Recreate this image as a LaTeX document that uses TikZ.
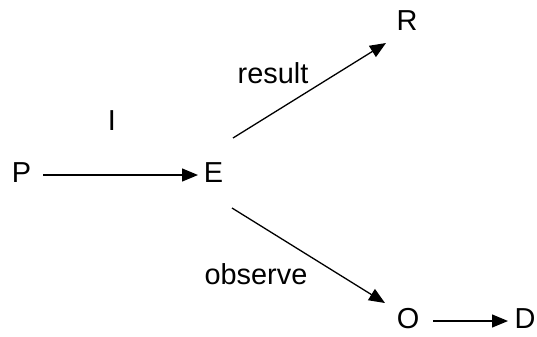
\documentclass[tikz,border=0pt]{standalone}
\usepackage{fontspec}
\setmainfont{Liberation Sans}
\usetikzlibrary{arrows.meta}

\begin{document}
\begin{tikzpicture}[x=1bp,y=-1bp,font=\fontsize{29}{34}\selectfont,
  lbl/.style={inner sep=0pt},
  arr/.style={line width=1.3bp,-{Triangle[length=16bp,width=13bp]}}]
  \useasboundingbox (0,0) rectangle (537,336);
  % nodes
  \node[lbl] (P) at (21.5,173) {P};
  \node[lbl] (E) at (213.5,173) {E};
  \node[lbl] (R) at (407,21) {R};
  \node[lbl] (O) at (408,319) {O};
  \node[lbl] (D) at (525,319) {D};
  % arrows
  \draw[arr] ([shift={(21.5,2)}]P.center) -- ([shift={(-15.5,2)}]E.center);
  \draw[arr] ([shift={(19.5,-35)}]E.center) -- ([shift={(-21,22)}]R.center);
  \draw[arr] ([shift={(18.5,35)}]E.center) -- ([shift={(-23,-16)}]O.center);
  \draw[arr] ([shift={(25,2)}]O.center) -- ([shift={(-17,2)}]D.center);
  % labels
  \node[lbl] (lI) at (112,121) {I};
  \node[lbl] (lres) at (273,73) {result};
  \node[lbl] (lobs) at (256,274) {observe};
\end{tikzpicture}
\end{document}
